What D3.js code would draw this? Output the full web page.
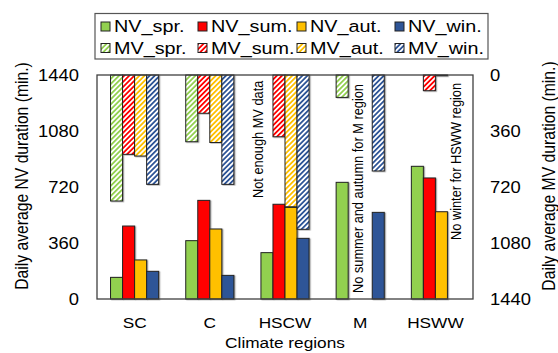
<!DOCTYPE html>
<html>
<head>
<meta charset="utf-8">
<script src="https://cdn.jsdelivr.net/npm/d3@7"></script>
<style>
  body { margin: 0; background: #fff; }
  svg { display: block; font-family: "Liberation Sans", Arial, sans-serif; }
</style>
</head>
<body>
<svg id="chart" width="558" height="353"></svg>
<script>
const regions = ['SC', 'C', 'HSCW', 'M', 'HSWW']
const seasons = ['spr.', 'sum.', 'aut.', 'win.']
const seasonColors = ['#92d050', '#ff0000', '#ffc000', '#2f5597']
// NV duration per region, one array per season (min.)
const nvSpr = [139, 375, 298, 750, 853]
const nvSum = [469, 634, 609, null, 778]
const nvAut = [251, 450, 589, null, 561]
const nvWin = [178, 152, 390, 557, null]
// MV duration, hung from the top (min.)
const mvSpr = [810, 429, null, 144, null]
const mvSum = [510, 246, 397, null, 101]
const mvAut = [521, 434, 847, null, 5]
const mvWin = [703, 703, 992, 617, null]
const yTicks = [0, 360, 720, 1080, 1440]
const notes = [
    { region: 'HSCW', slot: 0, dx: 2, y0: 198, text: 'Not enough MV data' }
  , { region: 'M', slot: 2, dx: 3, y0: 293, text: 'No summer and autumn for M region' }
  , { region: 'HSWW', slot: 3, dx: 14, y0: 240, text: 'No winter for HSWW region' }
]

const plotLeft = 97, plotRight = 473, plotTop = 75, plotBottom = 299
const sx = 1.15   // source figure was stretched sideways

const svg = d3.select('#chart')
const defs = svg.append('defs')

seasonColors.forEach((c, i) => {
  const p = defs.append('pattern')
      .attr('id', `hatch${i}`)
      .attr('patternUnits', 'userSpaceOnUse')
      .attr('width', 3.6).attr('height', 3.6)
      .attr('patternTransform', 'rotate(45)')
  p.append('rect').attr('width', 3.6).attr('height', 3.6).attr('fill', '#fff')
  p.append('rect').attr('width', 1.8).attr('height', 3.6).attr('fill', c)
})
defs.append('filter').attr('id', 'shadow')
  .append('feDropShadow')
    .attr('dx', 1.2).attr('dy', 0.6).attr('stdDeviation', 0.6)
    .attr('flood-color', '#000').attr('flood-opacity', 0.35)

const x0 = d3.scaleBand().domain(regions).range([plotLeft, plotRight])
    .paddingInner(0.36).paddingOuter(0.18)
const x1 = d3.scaleBand().domain(seasons).range([0, x0.bandwidth()])
const yNV = d3.scaleLinear().domain([0, 1440]).range([plotBottom, plotTop])
const yMV = d3.scaleLinear().domain([0, 1440]).range([plotTop, plotBottom])

const nvSeries = [nvSpr, nvSum, nvAut, nvWin]
const mvSeries = [mvSpr, mvSum, mvAut, mvWin]

const nvData = [], mvData = []
regions.forEach((r, ri) => seasons.forEach((s, si) => {
  if (nvSeries[si][ri] != null) nvData.push({ r, s, si, v: nvSeries[si][ri] })
  if (mvSeries[si][ri] != null) mvData.push({ r, s, si, v: mvSeries[si][ri] })
}))

svg.append('rect')
    .attr('x', plotLeft).attr('y', plotTop)
    .attr('width', plotRight - plotLeft).attr('height', plotBottom - plotTop)
    .attr('fill', '#fff')

const bars = svg.append('g').attr('filter', 'url(#shadow)')
bars.selectAll('rect.nv')
  .data(nvData)
  .join('rect')
    .attr('class', 'nv')
    .attr('x', d => x0(d.r) + x1(d.s))
    .attr('y', d => yNV(d.v))
    .attr('width', x1.bandwidth())
    .attr('height', d => yNV(0) - yNV(d.v))
    .attr('fill', d => seasonColors[d.si])
    .attr('stroke', '#222').attr('stroke-width', 1)
bars.selectAll('rect.mv')
  .data(mvData)
  .join('rect')
    .attr('class', 'mv')
    .attr('x', d => x0(d.r) + x1(d.s))
    .attr('y', yMV(0))
    .attr('width', x1.bandwidth())
    .attr('height', d => yMV(d.v) - yMV(0))
    .attr('fill', d => `url(#hatch${d.si})`)
    .attr('stroke', '#222').attr('stroke-width', 1)

svg.append('rect')
    .attr('x', plotLeft).attr('y', plotTop)
    .attr('width', plotRight - plotLeft).attr('height', plotBottom - plotTop)
    .attr('fill', 'none').attr('stroke', '#404040').attr('stroke-width', 1.3)

const stretched = (sel, x, y, rot) =>
  sel.attr('transform', `translate(${x},${y}) scale(${sx},1)${rot ? ` rotate(${rot})` : ''}`)

// axis tick labels
svg.selectAll('text.yl')
  .data(yTicks)
  .join('text')
    .attr('class', 'yl')
    .attr('text-anchor', 'end').attr('dy', '0.35em')
    .attr('font-size', 16)
    .each(function (d) { stretched(d3.select(this), 79, yNV(d)) })
    .text(d => d)
svg.selectAll('text.yr')
  .data(yTicks)
  .join('text')
    .attr('class', 'yr')
    .attr('dy', '0.35em')
    .attr('font-size', 16)
    .each(function (d) { stretched(d3.select(this), 490, yMV(d)) })
    .text(d => d)
svg.selectAll('text.xl')
  .data(regions)
  .join('text')
    .attr('class', 'xl')
    .attr('text-anchor', 'middle')
    .attr('font-size', 15)
    .each(function (d) { stretched(d3.select(this), x0(d) + x0.bandwidth() / 2, 328) })
    .text(d => d)

svg.append('text')
    .attr('text-anchor', 'middle').attr('font-size', 15)
    .call(stretched, (plotLeft + plotRight) / 2, 348)
    .text('Climate regions')
svg.append('text')
    .attr('text-anchor', 'middle').attr('font-size', 15.7)
    .call(stretched, 28, 176, -90)
    .text('Daily average NV duration (min.)')
svg.append('text')
    .attr('text-anchor', 'middle').attr('font-size', 15.7)
    .call(stretched, 555, 176, -90)
    .text('Daily average MV duration (min.)')

// notes
svg.selectAll('text.note')
  .data(notes)
  .join('text')
    .attr('class', 'note')
    .attr('font-size', 12.8)
    .each(function (d) {
      stretched(d3.select(this), x0(d.region) + x1(seasons[d.slot]) + d.dx, d.y0, -90)
    })
    .text(d => d.text)

// legend
const legend = svg.append('g')
legend.append('rect')
    .attr('x', 95).attr('y', 13.5).attr('width', 393).attr('height', 45.5)
    .attr('fill', '#fff').attr('stroke', '#555').attr('stroke-width', 1.2)
const legendCols = [101, 198, 297, 395]
const legendItems = []
seasons.forEach((s, si) => {
  legendItems.push({ kind: 'NV', si, row: 0, label: `NV_${s}` })
  legendItems.push({ kind: 'MV', si, row: 1, label: `MV_${s}` })
})
const li = legend.selectAll('g.item')
  .data(legendItems)
  .join('g')
    .attr('class', 'item')
    .attr('transform', d => `translate(${legendCols[d.si]},${d.row ? 48 : 26.5})`)
li.append('rect')
    .attr('x', 0).attr('y', -4.5).attr('width', 9).attr('height', 9)
    .attr('fill', d => d.kind === 'NV' ? seasonColors[d.si] : `url(#hatch${d.si})`)
    .attr('stroke', '#222').attr('stroke-width', 1)
li.append('text')
    .attr('dy', '0.36em').attr('font-size', 16.5)
    .attr('transform', `translate(13,0) scale(1.2,1)`)
    .text(d => d.label)
</script>
</body>
</html>
